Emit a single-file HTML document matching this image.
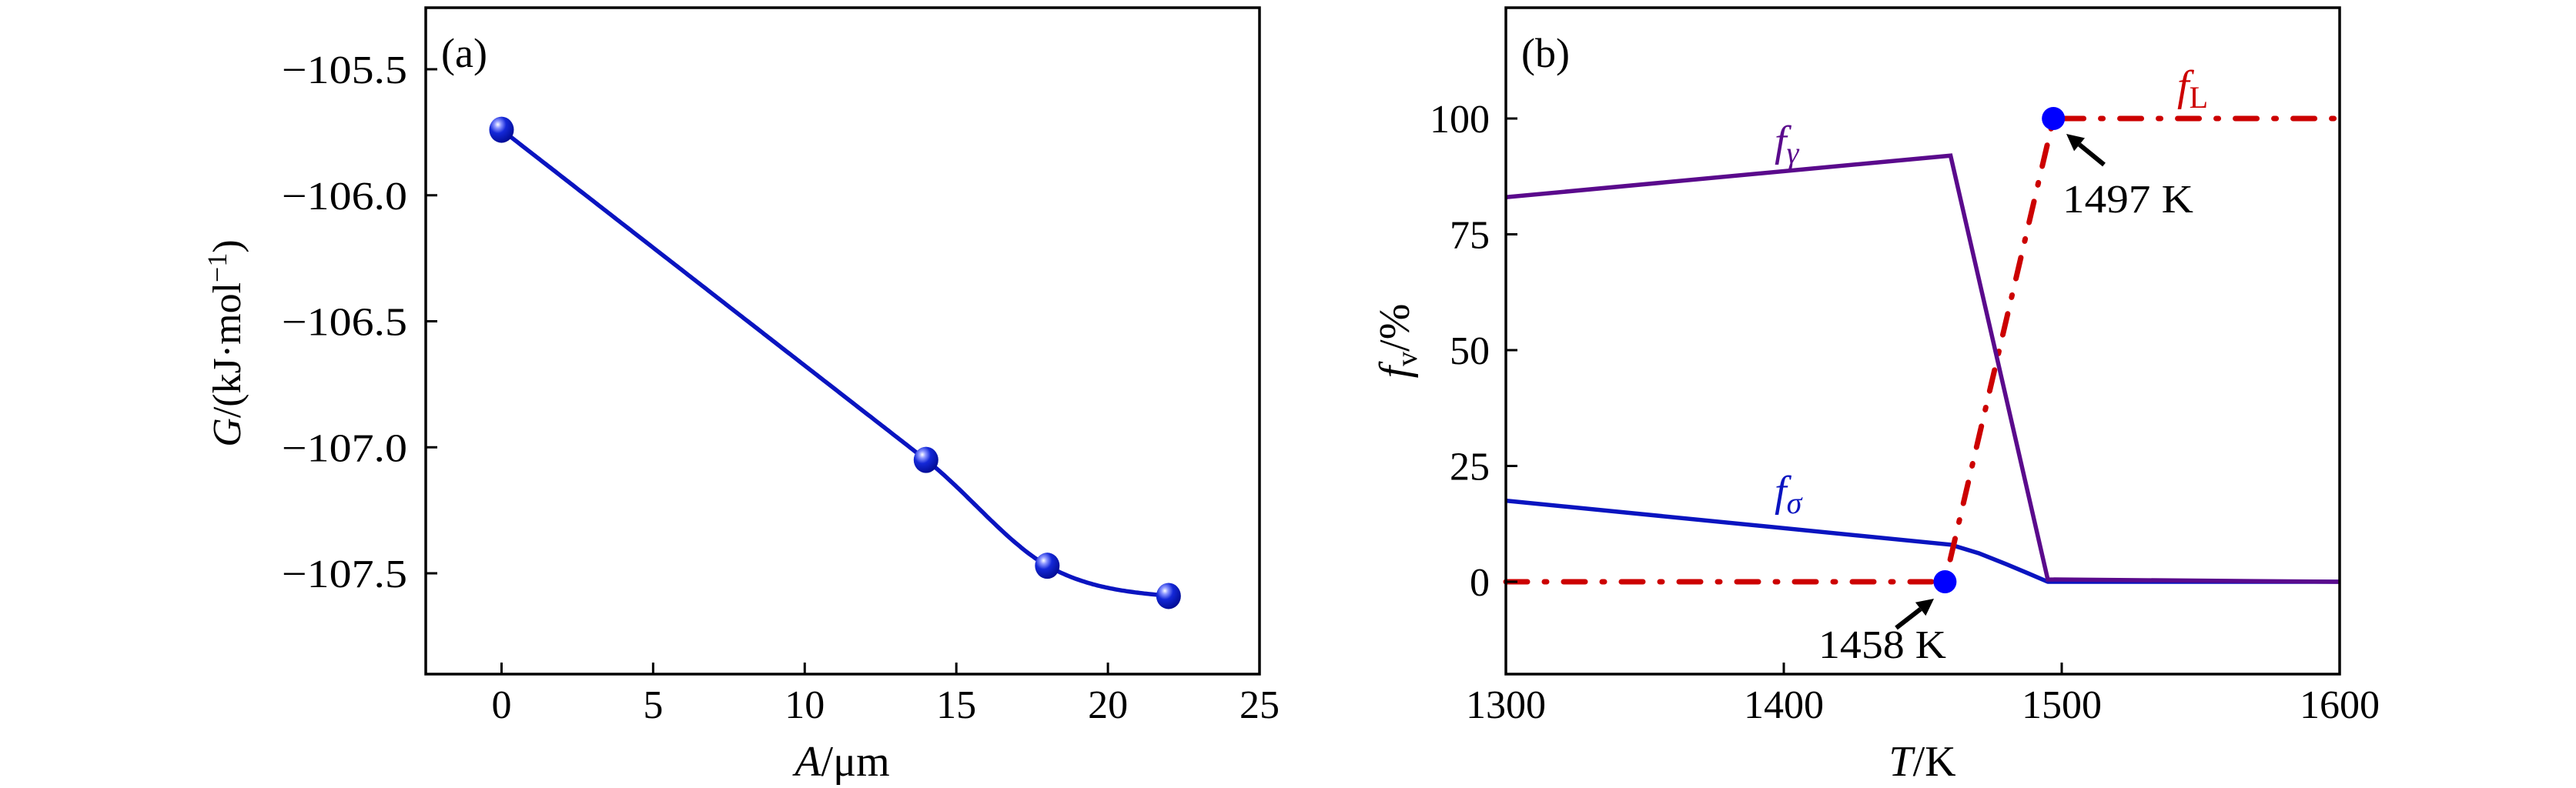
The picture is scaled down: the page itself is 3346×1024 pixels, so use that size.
<!DOCTYPE html>
<html><head><meta charset="utf-8"><style>
html,body{margin:0;padding:0;background:#fff;}
svg{display:block;font-family:"Liberation Serif","DejaVu Serif",serif;}
</style></head><body>
<svg id="fig" width="3346" height="1024" viewBox="0 0 3346 1024" xmlns="http://www.w3.org/2000/svg">
<defs>
<radialGradient id="sph" cx="0.35" cy="0.3" r="0.75">
<stop offset="0" stop-color="#ffffff"/><stop offset="0.18" stop-color="#8c96ff"/><stop offset="0.45" stop-color="#1428d8"/><stop offset="1" stop-color="#000a90"/>
</radialGradient>
</defs>
<g id="pa"></g>
<g id="pb"></g>
</svg>
<script>
// Panel (a) data
const aX = [0, 14, 18, 22];
const aY = [-105.74, -107.05, -107.47, -107.59];
const aXTicks = [0, 5, 10, 15, 20, 25];
const aYTicks = [-105.5, -106.0, -106.5, -107.0, -107.5];
// Panel (b) data
const bT = [1300, 1460, 1495, 1600];
const gammaV = [83, 92, 0.5, 0];
const sigmaT = [1300, 1460, 1470, 1480, 1488, 1495, 1600];
const sigmaV = [17.5, 8, 6.2, 3.8, 1.8, 0, 0];
const liqT = [1300, 1458, 1497, 1600];
const liqV = [0, 0, 100, 100];
const markT = [1458, 1497];
const markV = [0, 100];
const bXTicks = [1300, 1400, 1500, 1600];
const bYTicks = [0, 25, 50, 75, 100];

const NS = "http://www.w3.org/2000/svg";
function mk(parent, tag, attrs, text){
  const e = document.createElementNS(NS, tag);
  for (const k in attrs) e.setAttribute(k, attrs[k]);
  if (text !== undefined) e.textContent = text;
  parent.appendChild(e); return e;
}
function lin(d0,d1,r0,r1){return v=>r0+(v-d0)*(r1-r0)/(d1-d0);}

// ---------- Panel A ----------
const pa = document.getElementById('pa');
const ax = lin(-2.5, 25, 553, 1636);
const ay = lin(-105.5, -107.5, 90, 745);
function hermite(xs, ys){
  const n=xs.length, m=[];
  const sec=[]; for(let i=0;i<n-1;i++) sec.push((ys[i+1]-ys[i])/(xs[i+1]-xs[i]));
  m[0]=sec[0]; m[1]=sec[0];
  for(let i=2;i<n-1;i++) m[i]=(sec[i-1]+sec[i])/2;
  m[n-1]=sec[n-2]*0.4;
  return x=>{let i=0;while(i<n-2&&x>xs[i+1])i++;const h=xs[i+1]-xs[i],t=(x-xs[i])/h;
    const h00=2*t*t*t-3*t*t+1,h10=t*t*t-2*t*t+t,h01=-2*t*t*t+3*t*t,h11=t*t*t-t*t;
    return h00*ys[i]+h10*h*m[i]+h01*ys[i+1]+h11*h*m[i+1];};
}
const sf = hermite(aX, aY);
let pts=[];
for(let i=0;i<=300;i++){const x=aX[0]+(aX[aX.length-1]-aX[0])*i/300;pts.push(ax(x).toFixed(1)+','+ay(sf(x)).toFixed(1));}
const curve = mk(pa,'polyline',{points:pts.join(' '),fill:'none',stroke:'#0a14c0','stroke-width':5.5});


aX.forEach((x,i)=>{
  const m = mk(pa,'ellipse',{cx:ax(x),cy:ay(aY[i]),rx:16,ry:17,fill:'url(#sph)'});
  
  
});
const fa = mk(pa,'rect',{x:553,y:10,width:1083,height:866,fill:'none',stroke:'#000','stroke-width':3.5});


aXTicks.forEach(v=>{
  const X=ax(v);
  mk(pa,'line',{x1:X,y1:876,x2:X,y2:861,stroke:'#000','stroke-width':3});
  const t=mk(pa,'text',{x:X,y:933,'font-size':52,'text-anchor':'middle'},String(v));
  
  
});
aYTicks.forEach(v=>{
  const Y=ay(v);
  mk(pa,'line',{x1:553,y1:Y,x2:568,y2:Y,stroke:'#000','stroke-width':3});
  const t=mk(pa,'text',{x:529,y:Y+18,'font-size':52,'text-anchor':'end',textLength:163,lengthAdjust:'spacingAndGlyphs'},'\u2212'+Math.abs(v).toFixed(1));
  
  
});
const la=mk(pa,'text',{x:573,y:87,'font-size':54},'(a)');


const xta=mk(pa,'text',{x:1094,y:1008,'font-size':56,'text-anchor':'middle'});
xta.innerHTML='<tspan font-style="italic">A</tspan>/μm';


const yta=mk(pa,'text',{x:0,y:0,'font-size':52,'text-anchor':'middle',transform:'translate(312,446) rotate(-90)'});
yta.innerHTML='<tspan font-style="italic">G</tspan>/(kJ·mol<tspan dy="-18" font-size="36">−1</tspan><tspan dy="18">)</tspan>';



// ---------- Panel B ----------
const pb=document.getElementById('pb');
const bx=lin(1300,1600,1956,3039);
const by=lin(0,100,756,154);
function poly(xs,ys,attrs,name){
  const p=mk(pb,'polyline',Object.assign({points:xs.map((x,i)=>bx(x).toFixed(1)+','+by(ys[i]).toFixed(1)).join(' '),fill:'none'},attrs));
  
  
}
poly(sigmaT,sigmaV,{stroke:'#0a14c0','stroke-width':5.5,'stroke-linejoin':'round'},'f-sigma-line');
poly(liqT,liqV,{stroke:'#cc0000','stroke-width':7,'stroke-dasharray':'28 22 3 22','stroke-linecap':'round'},'f-liquid-line');
poly(bT,gammaV,{stroke:'#5a0a8c','stroke-width':5.5,'stroke-linejoin':'miter'},'f-gamma-line');
markT.forEach((t,i)=>{
  const c=mk(pb,'ellipse',{cx:bx(t),cy:by(markV[i]),rx:15,ry:15,fill:'#0000ff'});
  
  
});
const fb=mk(pb,'rect',{x:1956,y:10,width:1083,height:866,fill:'none',stroke:'#000','stroke-width':3.5});


bXTicks.forEach(v=>{
  const X=bx(v);
  mk(pb,'line',{x1:X,y1:876,x2:X,y2:861,stroke:'#000','stroke-width':3});
  const t=mk(pb,'text',{x:X,y:933,'font-size':52,'text-anchor':'middle'},String(v));
  
  
});
bYTicks.forEach(v=>{
  const Y=by(v);
  mk(pb,'line',{x1:1956,y1:Y,x2:1971,y2:Y,stroke:'#000','stroke-width':3});
  const t=mk(pb,'text',{x:1935,y:Y+18,'font-size':52,'text-anchor':'end'},String(v));
  
  
});
const lb=mk(pb,'text',{x:1976,y:87,'font-size':54},'(b)');


const xtb=mk(pb,'text',{x:2497,y:1008,'font-size':56,'text-anchor':'middle'});
xtb.innerHTML='<tspan font-style="italic">T</tspan>/K';


const ytb=mk(pb,'text',{x:0,y:0,'font-size':56,'text-anchor':'middle',transform:'translate(1830,443) rotate(-90)'});
ytb.innerHTML='<tspan font-style="italic">f</tspan><tspan font-size="38" dy="10">v</tspan><tspan dy="-10">/%</tspan>';


const lg=mk(pb,'text',{x:2305,y:202,'font-size':56,fill:'#5a0a8c','font-style':'italic'});
lg.innerHTML='f<tspan font-size="40" dy="10">γ</tspan>';


const ls=mk(pb,'text',{x:2305,y:657,'font-size':56,fill:'#0a14c0','font-style':'italic'});
ls.innerHTML='f<tspan font-size="40" dy="10">σ</tspan>';


const ll=mk(pb,'text',{x:2828,y:130,'font-size':56,fill:'#cc0000','font-style':'italic'});
ll.innerHTML='f<tspan font-size="40" dy="10" font-style="normal">L</tspan>';


const a1=mk(pb,'text',{x:2679,y:276,'font-size':52,textLength:170,lengthAdjust:'spacingAndGlyphs'},'1497 K');


const a2=mk(pb,'text',{x:2362,y:855,'font-size':52,textLength:166,lengthAdjust:'spacingAndGlyphs'},'1458 K');


function arrow(x1,y1,x2,y2,name){
  const g=mk(pb,'g',{});
  
  
  const dx=x2-x1,dy=y2-y1,L=Math.hypot(dx,dy),ux=dx/L,uy=dy/L;
  const hx=x2-ux*22,hy=y2-uy*22;
  mk(g,'line',{x1:x1,y1:y1,x2:hx,y2:hy,stroke:'#000','stroke-width':6});
  mk(g,'polygon',{points:`${x2},${y2} ${hx-uy*11},${hy+ux*11} ${hx+uy*11},${hy-ux*11}`,fill:'#000'});
}
arrow(2733,214,2684,174,'arrow-1497k');
arrow(2463,816,2512,778,'arrow-1458k');
</script>
</body></html>
